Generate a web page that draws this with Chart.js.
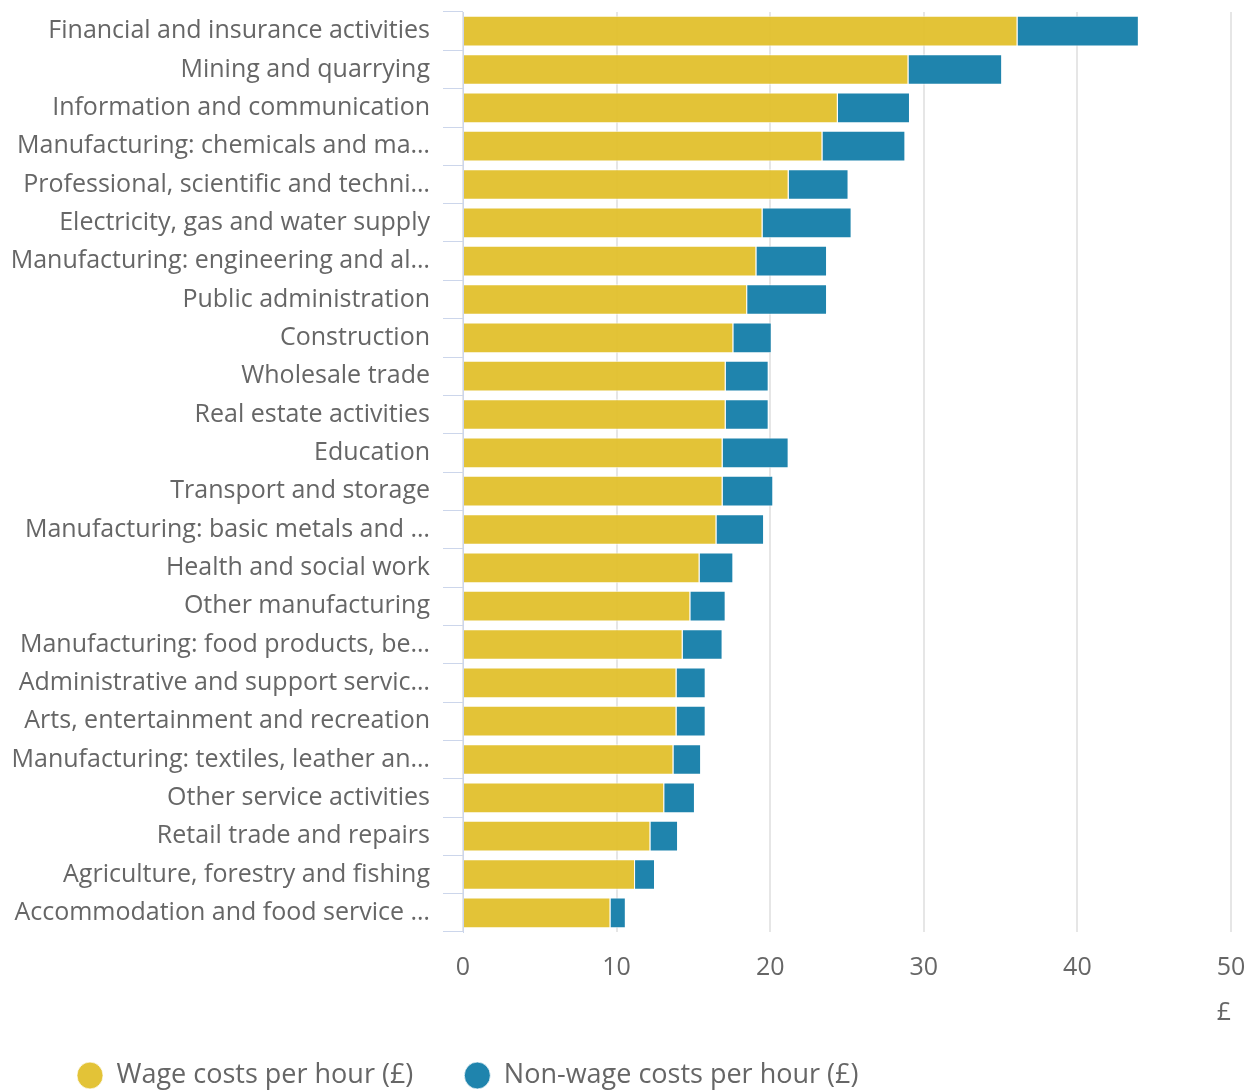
<!DOCTYPE html>
<html>
<head>
<meta charset="utf-8">
<script src="https://cdn.jsdelivr.net/npm/chart.js@4"></script>
<style>
  body { margin: 0; background: #fff; }
  #wrap { width: 1255px; height: 1092px; }
</style>
</head>
<body>
<div id="wrap"><canvas id="costChart"></canvas></div>
<script>
// Industries, as labelled on the chart (long ones are cut short like the original)
const industries = [
  'Financial and insurance activities',
  'Mining and quarrying',
  'Information and communication',
  'Manufacturing: chemicals and ma…',
  'Professional, scientific and techni…',
  'Electricity, gas and water supply',
  'Manufacturing: engineering and al…',
  'Public administration',
  'Construction',
  'Wholesale trade',
  'Real estate activities',
  'Education',
  'Transport and storage',
  'Manufacturing: basic metals and …',
  'Health and social work',
  'Other manufacturing',
  'Manufacturing: food products, be…',
  'Administrative and support servic…',
  'Arts, entertainment and recreation',
  'Manufacturing: textiles, leather an…',
  'Other service activities',
  'Retail trade and repairs',
  'Agriculture, forestry and fishing',
  'Accommodation and food service …'
];

// £ per hour
const wageCosts = [36.1, 29.0, 24.4, 23.4, 21.2, 19.5, 19.1, 18.5, 17.6, 17.1, 17.1, 16.9,
                   16.9, 16.5, 15.4, 14.8, 14.3, 13.9, 13.9, 13.7, 13.1, 12.2, 11.2, 9.6];
const nonWageCosts = [7.9, 6.1, 4.7, 5.4, 3.9, 5.8, 4.6, 5.2, 2.5, 2.8, 2.8, 4.3,
                      3.3, 3.1, 2.2, 2.3, 2.6, 1.9, 1.9, 1.8, 2.0, 1.8, 1.3, 1.0];

const xTicks = [0, 10, 20, 30, 40, 50];

const textColor = '#666666';
const font = { family: '"Open Sans", sans-serif', size: 25 };
const legendFont = { family: '"Open Sans", sans-serif', size: 27 };

// nudge the legend to the right, like the original
const legendShift = {
  id: 'legendShift',
  afterLayout(chart) {
    chart.legend.left += 26;
  }
};

const ctx = document.getElementById('costChart').getContext('2d');
new Chart(ctx, {
  type: 'bar',
  data: {
    labels: industries,
    datasets: [{
      label: 'Wage costs per hour (£)',
      data: wageCosts,
      backgroundColor: 'rgba(226, 192, 44, 0.95)',
      borderColor: 'rgba(255, 255, 255, 0.7)',
      borderWidth: 1,
      barPercentage: 0.8,
      categoryPercentage: 1
    }, {
      label: 'Non-wage costs per hour (£)',
      data: nonWageCosts,
      backgroundColor: 'rgba(24, 128, 170, 0.97)',
      borderColor: 'rgba(255, 255, 255, 0.7)',
      borderWidth: 1,
      barPercentage: 0.8,
      categoryPercentage: 1
    }]
  },
  plugins: [legendShift],
  options: {
    indexAxis: 'y',
    responsive: true,
    maintainAspectRatio: false,
    animation: false,
    layout: { padding: { top: 12, right: 24, left: 0, bottom: 0 } },
    scales: {
      x: {
        stacked: true,
        min: 0,
        max: 50,
        afterBuildTicks: (scale) => { scale.ticks = xTicks.map(v => ({ value: v })); },
        afterFit: (scale) => { scale.paddingLeft = 0; scale.paddingRight = 0; },
        grid: { color: '#e6e6e6', lineWidth: 2, drawTicks: false },
        border: { display: false },
        ticks: { color: textColor, font: font, padding: 21 },
        title: {
          display: true,
          text: '£',
          align: 'end',
          color: textColor,
          font: font,
          padding: { top: -6, bottom: -17 }
        }
      },
      y: {
        stacked: true,
        afterFit: (scale) => { scale.width = 463; scale.paddingTop = 0; scale.paddingBottom = 0; },
        grid: { offset: true, drawOnChartArea: false, color: '#ccd6eb', tickLength: 20 },
        border: { color: '#ccd6eb', width: 1 },
        ticks: { color: textColor, font: font, padding: 13, autoSkip: false }
      }
    },
    plugins: {
      tooltip: { enabled: false },
      legend: {
        position: 'bottom',
        align: 'start',
        maxHeight: 81,
        labels: {
          color: textColor,
          font: legendFont,
          usePointStyle: true,
          pointStyle: 'circle',
          pointStyleWidth: 26,
          boxHeight: 19,
          padding: 51
        }
      }
    }
  }
});
</script>
</body>
</html>
